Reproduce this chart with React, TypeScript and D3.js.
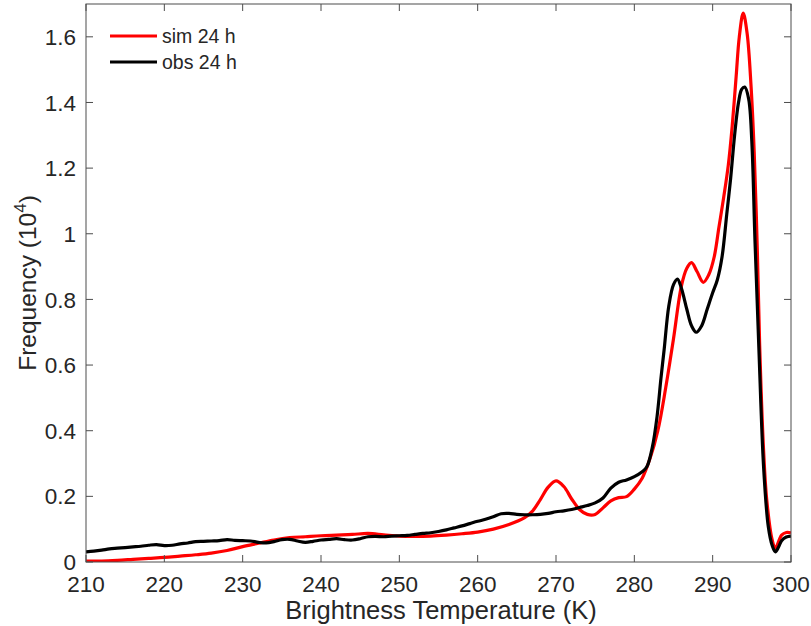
import React from "react";
import * as d3 from "d3";

const simX = [210, 212, 214, 216, 218, 220, 222, 224, 226, 228, 230, 232, 234, 236, 238, 240, 242, 244, 246, 248, 250, 252, 254, 256, 258, 260, 262, 264, 266, 267, 268, 269, 270, 271, 272, 273, 274, 275, 276, 277, 278, 279, 280, 281, 282, 283, 284, 285, 286, 286.7, 287.3, 288, 288.8, 289.5, 290.2, 290.8, 291.4, 292, 292.5, 293, 293.4, 293.9, 294.4, 294.9, 295.3, 295.7, 296.0, 296.5, 296.9, 297.6, 298.0, 298.8, 299.4, 300];
const simY = [0.003, 0.003, 0.005, 0.008, 0.011, 0.014, 0.018, 0.022, 0.027, 0.035, 0.047, 0.057, 0.067, 0.074, 0.077, 0.080, 0.082, 0.084, 0.087, 0.083, 0.079, 0.078, 0.079, 0.082, 0.086, 0.091, 0.100, 0.114, 0.135, 0.155, 0.190, 0.228, 0.247, 0.230, 0.192, 0.160, 0.145, 0.145, 0.165, 0.186, 0.196, 0.199, 0.222, 0.255, 0.315, 0.400, 0.53, 0.68, 0.84, 0.895, 0.912, 0.885, 0.852, 0.875, 0.93, 1.02, 1.11, 1.21, 1.33, 1.48, 1.6, 1.672, 1.61, 1.45, 1.25, 0.95, 0.66, 0.34, 0.19, 0.067, 0.042, 0.082, 0.09, 0.089];

const obsX = [210, 211, 212, 213, 214, 215, 216, 217, 218, 219, 220, 221, 222, 223, 224, 225, 226, 227, 228, 229, 230, 231, 232, 233, 234, 235, 236, 237, 238, 239, 240, 241, 242, 243, 244, 245, 246, 247, 248, 249, 250, 251, 252, 253, 254, 255, 256, 257, 258, 259, 260, 261, 262, 263, 264, 265, 266, 267, 268, 269, 270, 271, 272, 273, 274, 275, 276, 277, 278, 279, 280, 281, 281.6, 282.3, 282.9, 283.4, 283.8, 284.4, 285, 285.5, 286, 286.7, 287.3, 287.9, 288.6, 289.3, 290, 290.6, 291.2, 291.8, 292.3, 292.8, 293.3, 293.7, 294.1, 294.6, 295.0, 295.4, 295.9, 296.5, 297.1, 297.6, 298.0, 298.4, 298.8, 299.4, 300];
const obsY = [0.031, 0.033, 0.036, 0.040, 0.042, 0.044, 0.046, 0.048, 0.051, 0.053, 0.050, 0.051, 0.055, 0.058, 0.062, 0.063, 0.064, 0.065, 0.068, 0.066, 0.065, 0.064, 0.060, 0.058, 0.062, 0.068, 0.069, 0.064, 0.060, 0.063, 0.067, 0.069, 0.071, 0.068, 0.067, 0.071, 0.077, 0.078, 0.077, 0.079, 0.080, 0.081, 0.084, 0.087, 0.089, 0.093, 0.098, 0.104, 0.110, 0.117, 0.124, 0.130, 0.138, 0.147, 0.148, 0.145, 0.144, 0.144, 0.145, 0.148, 0.153, 0.156, 0.160, 0.166, 0.172, 0.180, 0.195, 0.225, 0.243, 0.250, 0.260, 0.275, 0.29, 0.35, 0.443, 0.56, 0.646, 0.78, 0.845, 0.862, 0.835, 0.77, 0.72, 0.70, 0.72, 0.77, 0.82, 0.86, 0.93, 1.06, 1.17, 1.30, 1.40, 1.44, 1.447, 1.41, 1.28, 0.98, 0.65, 0.29, 0.108, 0.05, 0.031, 0.045, 0.065, 0.076, 0.079];

const xTicks = [210, 220, 230, 240, 250, 260, 270, 280, 290, 300];
const yTicks = [0, 0.2, 0.4, 0.6, 0.8, 1, 1.2, 1.4, 1.6];
const seriesNames = ["sim 24 h", "obs 24 h"];
const seriesColors = ["#ff0000", "#000000"];

const W = 811, H = 626;
const L = 86, R = 791, T = 4, B = 562;
const FONT = "'Liberation Sans', Arial, Helvetica, sans-serif";
const TXT = "#262626";
const AX = "#4d4d4d";

export default function App() {
  const x = d3.scaleLinear().domain([210, 300]).range([L, R]);
  const y = d3.scaleLinear().domain([0, 1.7]).range([B, T]);
  const line = d3.line<[number, number]>()
    .x(d => x(d[0]))
    .y(d => y(d[1]))
    .curve(d3.curveCatmullRom.alpha(0.5));
  const sim = simX.map((v, i) => [v, simY[i]] as [number, number]);
  const obs = obsX.map((v, i) => [v, obsY[i]] as [number, number]);
  const tl = 7;
  return (
    <svg width={W} height={H} style={{ position: "absolute", left: 0, top: 0 }} fontFamily={FONT}>
      <rect x={0} y={0} width={W} height={H} fill="#fff" />
      <defs>
        <clipPath id="plotclip">
          <rect x={L} y={T} width={R - L} height={B - T} />
        </clipPath>
      </defs>
      <g clipPath="url(#plotclip)">
        <path d={line(sim) || ""} fill="none" stroke={seriesColors[0]} strokeWidth={3.2} strokeLinejoin="round" />
        <path d={line(obs) || ""} fill="none" stroke={seriesColors[1]} strokeWidth={3.2} strokeLinejoin="round" />
      </g>
      <rect x={L} y={T} width={R - L} height={B - T} fill="none" stroke={AX} strokeWidth={1} />
      {xTicks.map(t => (
        <g key={"x" + t}>
          <line x1={x(t)} x2={x(t)} y1={B} y2={B - tl} stroke={AX} />
          <line x1={x(t)} x2={x(t)} y1={T} y2={T + tl} stroke={AX} />
          <text x={x(t)} y={592} textAnchor="middle" fontSize={22.5} fill={TXT}>{t}</text>
        </g>
      ))}
      {yTicks.map(t => (
        <g key={"y" + t}>
          <line x1={L} x2={L + tl} y1={y(t)} y2={y(t)} stroke={AX} />
          <line x1={R} x2={R - tl} y1={y(t)} y2={y(t)} stroke={AX} />
          <text x={76} y={y(t)} dy="0.36em" textAnchor="end" fontSize={22.5} fill={TXT}>{String(t)}</text>
        </g>
      ))}
      <text x={441} y={619} textAnchor="middle" fontSize={25.5} fill={TXT}>Brightness Temperature (K)</text>
      <text transform={`translate(36, ${(T + B) / 2}) rotate(-90)`} textAnchor="middle" fontSize={24.5} fill={TXT}>
        Frequency (10<tspan fontSize={17} dy={-10}>4</tspan><tspan dy={10}>)</tspan>
      </text>
      {seriesNames.map((n, i) => (
        <g key={n}>
          <line x1={110} x2={157} y1={36 + i * 26} y2={36 + i * 26} stroke={seriesColors[i]} strokeWidth={3.2} />
          <text x={162} y={36 + i * 26} dy="0.36em" fontSize={19.5} fill={TXT}>{n}</text>
        </g>
      ))}
    </svg>
  );
}
